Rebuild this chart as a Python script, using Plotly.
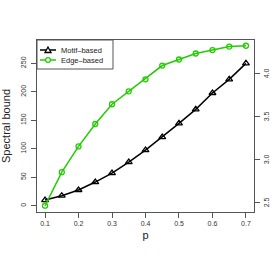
import plotly.graph_objects as go

p = [0.1, 0.15, 0.2, 0.25, 0.3, 0.35, 0.4, 0.45, 0.5, 0.55, 0.6, 0.65, 0.7]
motif = [10, 17.6, 27.6, 41.6, 57.4, 76.7, 97.8, 120.6, 144.7, 169.2, 197.9, 221.9, 250]
edge = [2.46, 2.85, 3.15, 3.41, 3.64, 3.79, 3.93, 4.09, 4.16, 4.23, 4.27, 4.31, 4.32]
names = ["Motif\u2013based", "Edge\u2013based"]

xticks = [0.1, 0.2, 0.3, 0.4, 0.5, 0.6, 0.7]
yticks = [0, 50, 100, 150, 200, 250]
y2ticks = [2.5, 3.0, 3.5, 4.0]
y2labels = ["2.5", "3.0", "3.5", "4.0"]

font = "Liberation Sans, Arial, sans-serif"
axcol = "#555"
green = "#22cc00"

# plot box: x 37..254, y 40..212 in window pixels (body margin removed below)
W, H = 273, 262
L, R, T, B = 37, 19, 40, 50
PW, PH = W - L - R, H - T - B


def px(x):
    return (x - L) / PW


def py(y):
    return (H - B - y) / PH


fig = go.Figure()
fig.add_trace(go.Scatter(
    x=p, y=motif, name=names[0], mode="lines+markers", showlegend=False,
    line=dict(color="black", width=1.5),
    marker=dict(symbol="triangle-up-open", size=6, color="black", line=dict(width=1.3)),
))
fig.add_trace(go.Scatter(
    x=p, y=edge, name=names[1], mode="lines+markers", yaxis="y2", showlegend=False,
    line=dict(color=green, width=1.5),
    marker=dict(symbol="circle-open", size=5, color=green, line=dict(width=1.3)),
))

# legend box drawn by hand (R style)
shapes = [
    dict(type="rect", xref="paper", yref="paper", x0=px(37), x1=px(113), y0=py(69), y1=py(40),
         line=dict(color=axcol, width=1), fillcolor="white", layer="above"),
    dict(type="line", xref="paper", yref="paper", x0=px(40), x1=px(56), y0=py(50), y1=py(50),
         line=dict(color="black", width=1.5), layer="above"),
    dict(type="line", xref="paper", yref="paper", x0=px(40), x1=px(56), y0=py(60), y1=py(60),
         line=dict(color=green, width=1.5), layer="above"),
    dict(type="path", xref="paper", yref="paper",
         path=f"M {px(48)} {py(47)} L {px(45)} {py(52.5)} L {px(51)} {py(52.5)} Z",
         line=dict(color="black", width=1.3), fillcolor="white", layer="above"),
    dict(type="circle", xref="paper", yref="paper", x0=px(45.6), x1=px(50.4), y0=py(62.4), y1=py(57.6),
         line=dict(color=green, width=1.3), fillcolor="white", layer="above"),
]
annotations = [
    dict(text=names[0], xref="paper", yref="paper", x=px(59), y=py(50), xanchor="left",
         yanchor="middle", showarrow=False, font=dict(size=7.5, color="#222")),
    dict(text=names[1], xref="paper", yref="paper", x=px(59), y=py(60), xanchor="left",
         yanchor="middle", showarrow=False, font=dict(size=7.5, color="#222")),
]
# right-axis tick labels (placed on the y2 scale)
for v, t in zip(y2ticks, y2labels):
    annotations.append(dict(text=t, xref="paper", yref="y2", x=px(266), y=v,
                            xanchor="center", yanchor="middle", textangle=-90,
                            showarrow=False, font=dict(size=7, color="#333")))

fig.update_layout(
    width=W, height=H,
    margin=dict(l=L, r=R, t=T, b=B, autoexpand=False),
    paper_bgcolor="white", plot_bgcolor="white",
    font=dict(family=font, size=7, color="#333"),
    showlegend=False,
    shapes=shapes, annotations=annotations,
    xaxis=dict(range=[0.076, 0.724], tickvals=xticks,
               ticktext=[str(t) for t in xticks], automargin=False,
               showgrid=False, zeroline=False,
               showline=True, linecolor=axcol, linewidth=1, mirror=True,
               ticks="outside", ticklen=5, tickcolor=axcol,
               title=dict(text="p", font=dict(size=11, color="#222"), standoff=4)),
    yaxis=dict(range=[-11, 291], tickvals=yticks,
               ticktext=[str(t) for t in yticks], automargin=False,
               tickangle=-90, showgrid=False, zeroline=False,
               showline=True, linecolor=axcol, linewidth=1,
               ticks="outside", ticklen=5, tickcolor=axcol,
               ticklabelstandoff=2,
               title=dict(text="Spectral bound", font=dict(size=11, color="#222"), standoff=9)),
    yaxis2=dict(range=[2.387, 4.387], tickvals=y2ticks,
                showticklabels=False, automargin=False,
                overlaying="y", side="right",
                showgrid=False, zeroline=False,
                showline=True, linecolor=axcol, linewidth=1,
                ticks="outside", ticklen=5, tickcolor=axcol),
)

fig.write_html(
    "out.html",
    config={"displayModeBar": False},
    post_script="document.body.style.margin='0px'; document.body.style.overflow='hidden';",
)
